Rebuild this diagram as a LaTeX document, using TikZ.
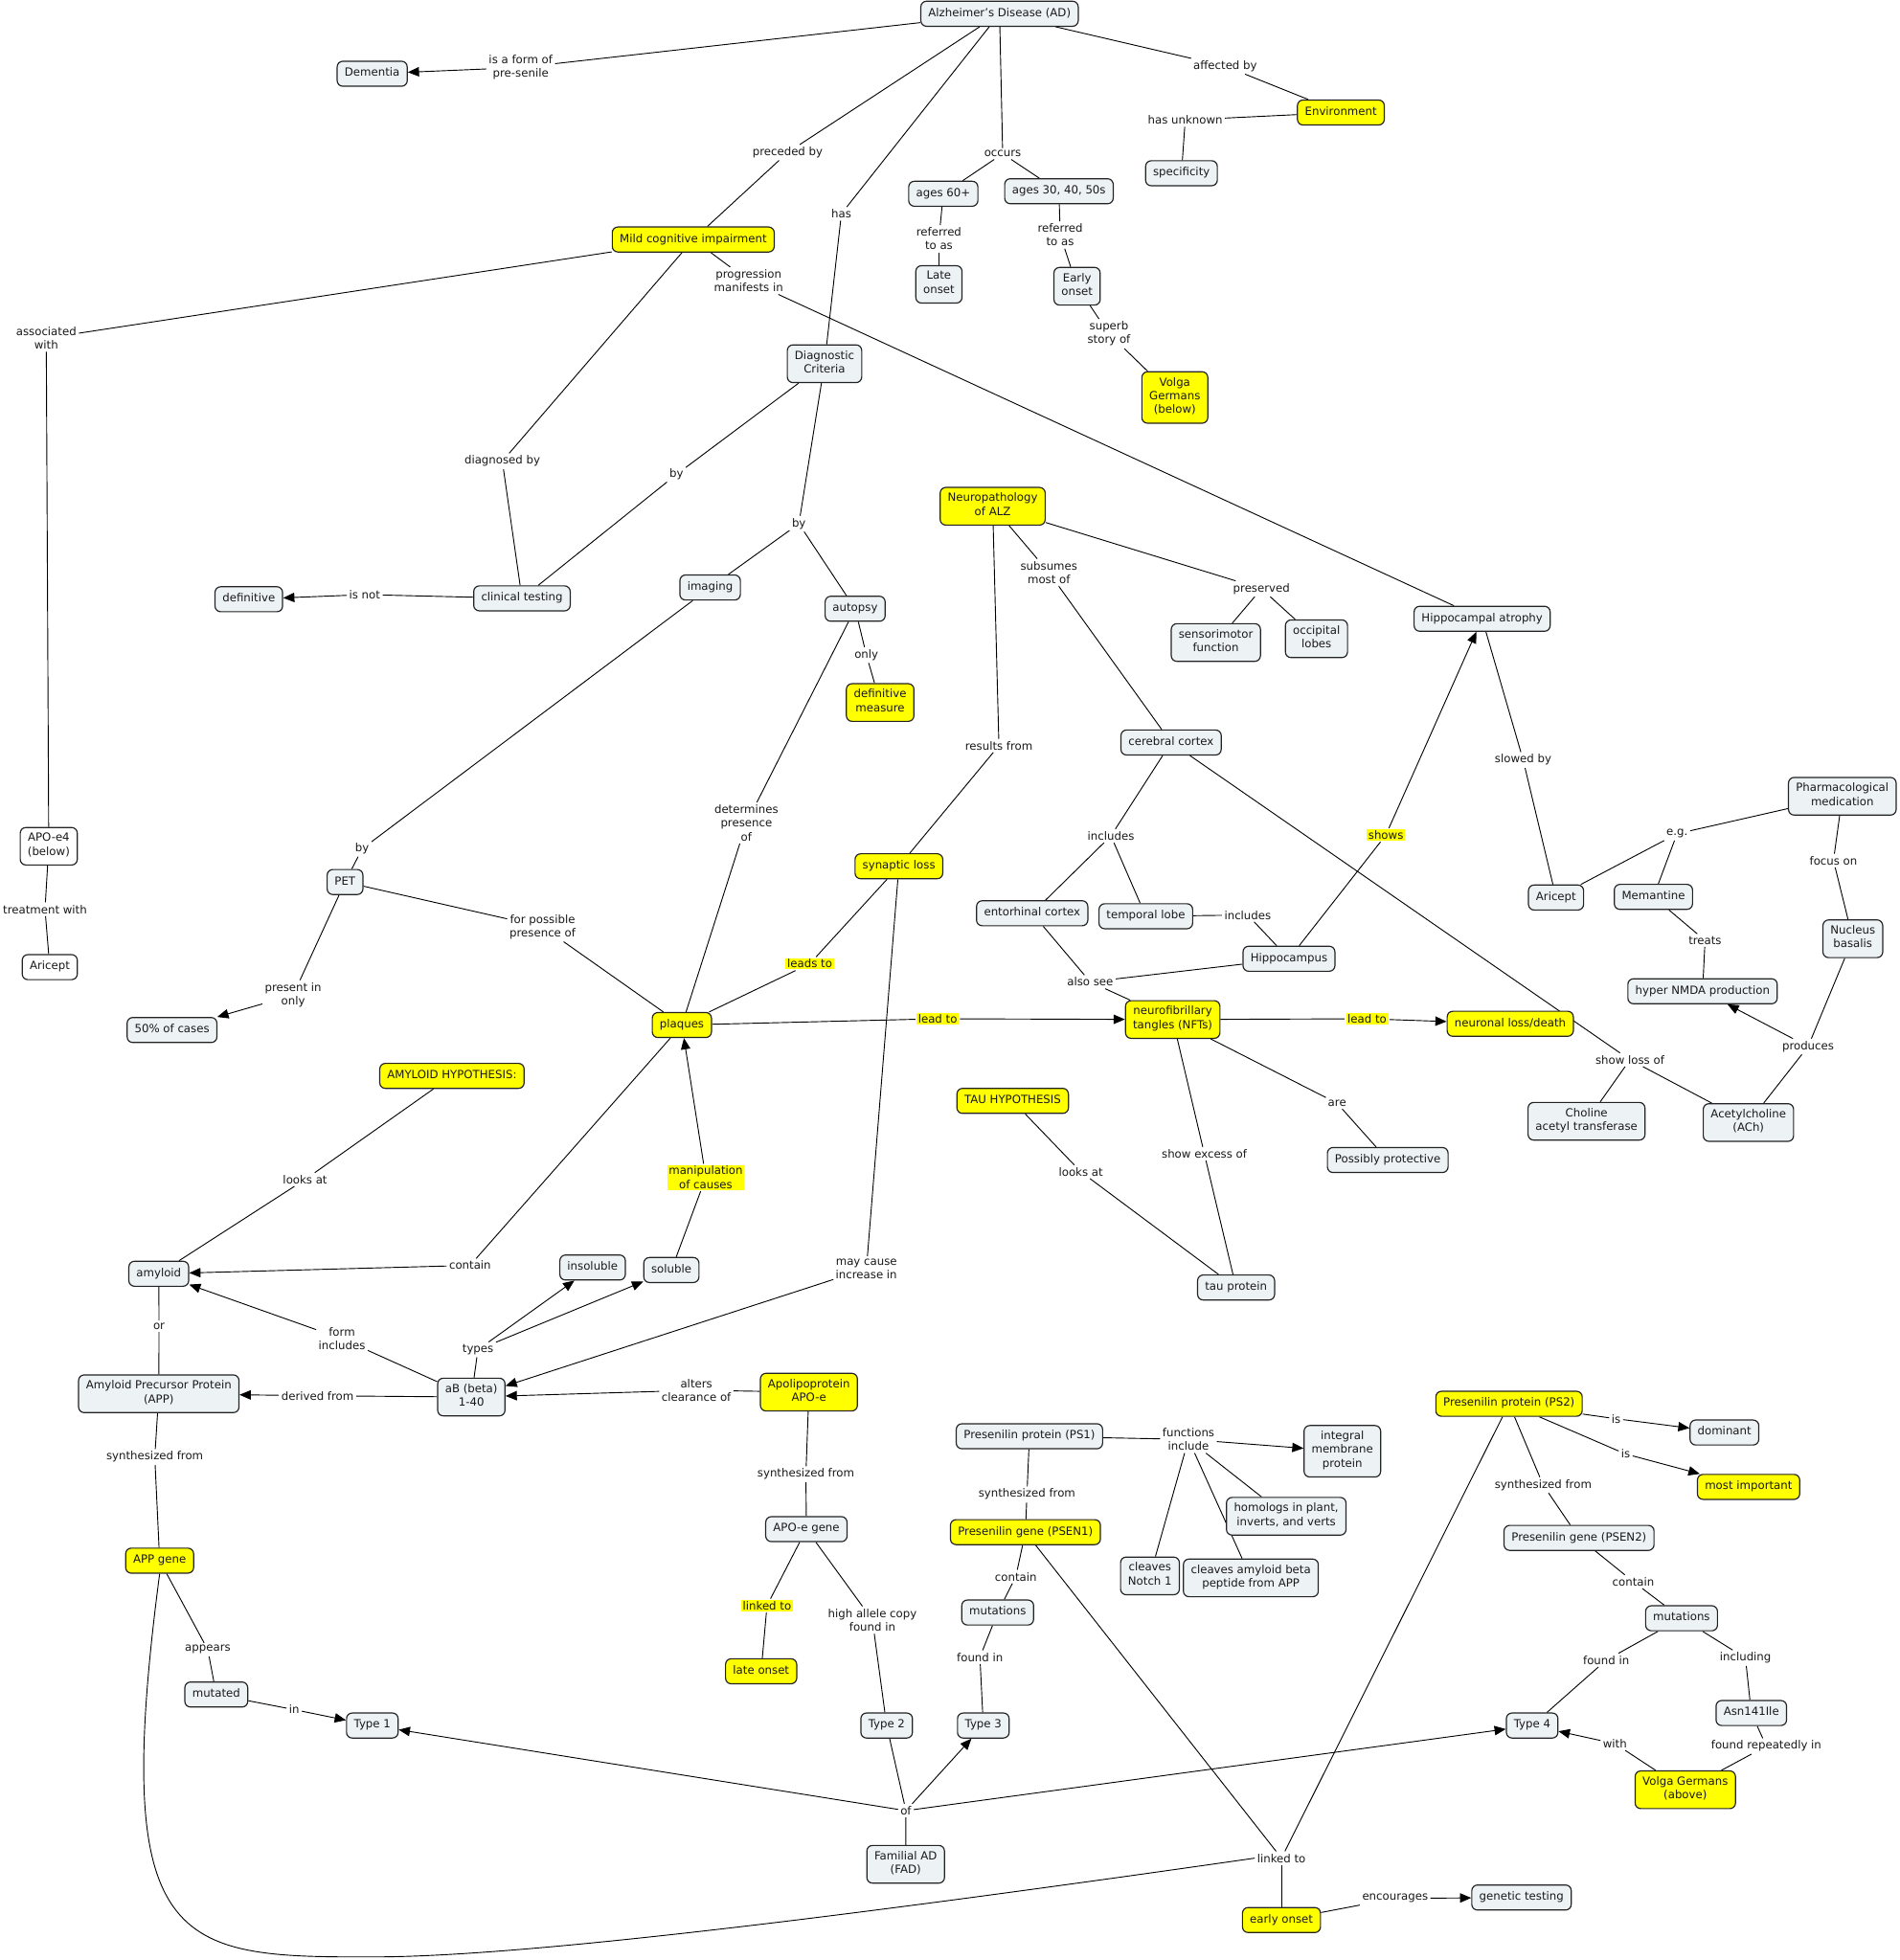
\documentclass[tikz,border=0pt]{standalone}
\usepackage{fontspec}
\setmainfont{DejaVu Sans}
\usetikzlibrary{arrows.meta}
\definecolor{cfill}{RGB}{237,242,245}
\definecolor{cyel}{RGB}{255,255,0}
\definecolor{cline}{RGB}{35,35,35}
\pgfdeclarelayer{bg}
\pgfsetlayers{bg,main}
\begin{document}
\begin{tikzpicture}[x=1pt,y=-1pt,
  every node/.style={font=\fontsize{9}{11}\selectfont, align=center, text=black!90},
  concept/.style={draw=cline, line width=0.9pt, rounded corners=4.5pt, fill=cfill, inner xsep=6pt, inner ysep=4.5pt, execute at begin node=\strut, execute at end node=\strut},
  yconcept/.style={concept, fill=cyel},
  wconcept/.style={concept, fill=white},
  lp/.style={inner sep=1.8pt},
  ylp/.style={inner xsep=1.3pt, inner ysep=1pt, fill=cyel, outer sep=1pt},
  con/.style={draw=black, line width=0.7pt},
  arr/.style={con, -{Triangle[length=9pt,width=7.5pt]}},
]
\useasboundingbox (0,0) rectangle (1519,1568);
% ---------------- concepts ----------------
\node[concept] (ad) at (799.5,11) {Alzheimer's Disease (AD)};
\node[concept] (dementia) at (297.7,59) {Dementia};
\node[yconcept] (env) at (1072.5,90) {Environment};
\node[concept] (spec) at (945,138.6) {specificity};
\node[yconcept] (mci) at (554.5,191.6) {Mild cognitive impairment};
\node[concept] (ages60) at (754.5,155) {ages 60+};
\node[concept] (ages30) at (847,153) {ages 30, 40, 50s};
\node[concept] (late) at (751,227.5) {Late\\onset};
\node[concept] (early) at (861.5,229) {Early\\onset};
\node[yconcept] (volga1) at (939.7,318) {Volga\\Germans\\(below)};
\node[concept] (diag) at (659.5,291) {Diagnostic\\Criteria};
\node[concept] (clinical) at (417.5,478.7) {clinical testing};
\node[concept] (definitive) at (199,479.4) {definitive};
\node[concept] (imaging) at (568,470) {imaging};
\node[concept] (autopsy) at (684,487) {autopsy};
\node[yconcept] (defmeasure) at (704,562) {definitive\\measure};
\node[yconcept] (neuro) at (794,405) {Neuropathology\\of ALZ};
\node[concept] (sensori) at (972.5,514) {sensorimotor\\function};
\node[concept] (occipital) at (1053,511) {occipital\\lobes};
\node[concept] (hatrophy) at (1185.5,495) {Hippocampal atrophy};
\node[wconcept] (apoe4) at (39,677) {APO-e4\\(below)};
\node[wconcept] (aricept1) at (39.8,773.7) {Aricept};
\node[concept] (pet) at (276,705.6) {PET};
\node[concept] (fifty) at (137.6,824) {50\% of cases};
\node[concept] (cortex) at (936.7,594) {cerebral cortex};
\node[yconcept] (synaptic) at (719,693) {synaptic loss};
\node[concept] (pharm) at (1473.6,637) {Pharmacological\\medication};
\node[concept] (aricept2) at (1244.6,718) {Aricept};
\node[concept] (memantine) at (1322.5,717.5) {Memantine};
\node[concept] (nucleus) at (1482,751) {Nucleus\\basalis};
\node[concept] (entorhinal) at (825.6,730.6) {entorhinal cortex};
\node[concept] (temporal) at (916.5,733) {temporal lobe};
\node[concept] (hippo) at (1031,767) {Hippocampus};
\node[concept] (nmda) at (1361.8,793) {hyper NMDA production};
\node[yconcept] (plaques) at (545.4,820) {plaques};
\node[yconcept] (nft) at (938,815.6) {neurofibrillary\\tangles (NFTs)};
\node[yconcept] (neuronal) at (1208,819) {neuronal loss/death};
\node[concept] (choline) at (1269,897) {Choline\\acetyl transferase};
\node[concept] (ach) at (1398.5,898) {Acetylcholine\\(ACh)};
\node[concept] (protective) at (1110,928) {Possibly protective};
\node[yconcept] (amyhyp) at (361.5,860.7) {AMYLOID HYPOTHESIS:};
\node[yconcept] (tauhyp) at (810,880.7) {TAU HYPOTHESIS};
\node[concept] (amyloid) at (127,1019) {amyloid};
\node[concept] (insoluble) at (474,1014) {insoluble};
\node[concept] (soluble) at (537,1016) {soluble};
\node[concept] (tau) at (988.7,1030) {tau protein};
\node[concept] (app) at (127,1115) {Amyloid Precursor Protein\\(APP)};
\node[concept] (ab) at (377,1117.6) {aB (beta)\\1-40};
\node[yconcept] (apolipo) at (647,1113.7) {Apolipoprotein\\APO-e};
\node[concept] (ps1) at (823.4,1149) {Presenilin protein (PS1)};
\node[concept] (integral) at (1073.7,1161) {integral\\membrane\\protein};
\node[concept] (homologs) at (1028.8,1213) {homologs in plant,\\inverts, and verts};
\node[concept] (cleavesn) at (919.8,1260.7) {cleaves\\Notch 1};
\node[concept] (cleavesa) at (1000.5,1262.3) {cleaves amyloid beta\\peptide from APP};
\node[yconcept] (ps2) at (1207,1123) {Presenilin protein (PS2)};
\node[concept] (dominant) at (1379.3,1146) {dominant};
\node[yconcept] (mostimp) at (1398.6,1189.5) {most important};
\node[concept] (psen2) at (1263,1230.3) {Presenilin gene (PSEN2)};
\node[concept] (apoegene) at (645,1223.3) {APO-e gene};
\node[yconcept] (psen1) at (820.2,1225.7) {Presenilin gene (PSEN1)};
\node[concept] (mut1) at (798,1290) {mutations};
\node[concept] (mut2) at (1345,1294.6) {mutations};
\node[yconcept] (appgene) at (127.7,1248.5) {APP gene};
\node[yconcept] (lateonset) at (608.8,1337) {late onset};
\node[concept] (asn) at (1400.8,1370.4) {Asn141Ile};
\node[concept] (mutated) at (173,1355.6) {mutated};
\node[concept] (type1) at (297.8,1380.4) {Type 1};
\node[concept] (type2) at (709.2,1380.4) {Type 2};
\node[concept] (type3) at (786.5,1380.4) {Type 3};
\node[concept] (type4) at (1225.5,1380.4) {Type 4};
\node[yconcept] (volga2) at (1348,1431.8) {Volga Germans\\(above)};
\node[concept] (fad) at (724.4,1491.4) {Familial AD\\(FAD)};
\node[yconcept] (earlyonset) at (1025,1536) {early onset};
\node[concept] (genetic) at (1217,1518) {genetic testing};
% ---------------- linking phrases ----------------
\node[lp] (Lisaform) at (416.5,54) {is a form of\\pre-senile};
\node[lp] (Lpreceded) at (630,122) {preceded by};
\node[lp] (Lhas) at (673,171) {has};
\node[lp] (Loccurs) at (802,123) {occurs};
\node[lp] (Laffected) at (980,53) {affected by};
\node[lp] (Lhasunknown) at (948,96) {has unknown};
\node[lp] (Lref1) at (751,191) {referred\\to as};
\node[lp] (Lref2) at (848,188) {referred\\to as};
\node[lp] (Lsuperb) at (887,267) {superb\\story of};
\node[lp] (Lassoc) at (37,270.5) {associated\\with};
\node[lp] (Ldiagby) at (401.8,369) {diagnosed by};
\node[lp] (Lprogr) at (598.8,224.6) {progression\\manifests in};
\node[lp] (Lby1) at (541,379.6) {by};
\node[lp] (Lby2) at (639,419) {by};
\node[lp] (Lisnot) at (291.7,475.7) {is not};
\node[lp] (Lonly) at (693,524) {only};
\node[lp] (Ldetermines) at (597,658.4) {determines\\presence\\of};
\node[lp] (Lby3) at (289.7,679) {by};
\node[lp] (Lpresentin) at (234.5,796) {present in\\only};
\node[lp] (Lforpossible) at (434,741.5) {for possible\\presence of};
\node[lp] (Ltreatment) at (36,727.4) {treatment with};
\node[lp] (Lsubsumes) at (839,458) {subsumes\\most of};
\node[lp] (Lpreserved) at (1009,471) {preserved};
\node[lp] (Lresults) at (799,596.5) {results from};
\node[lp] (Lincludes1) at (888.6,668.7) {includes};
\node[lp] (Lshowloss) at (1303.7,847.8) {show loss of};
\node[lp] (Lincludes2) at (998,732) {includes};
\node[lp] (Lalsosee) at (872,785.5) {also see};
\node[ylp] (Lshows) at (1108.5,668) {shows};
\node[lp] (Lslowed) at (1218.3,608) {slowed by};
\node[lp] (Leg) at (1341.4,667) {e.g.};
\node[lp] (Lfocus) at (1466.5,688.4) {focus on};
\node[lp] (Ltreats) at (1363.8,752.3) {treats};
\node[lp] (Lproduces) at (1446.2,837.2) {produces};
\node[ylp] (Lleadsto) at (647.7,771) {leads to};
\node[lp] (Lmaycause) at (693,1015) {may cause\\increase in};
\node[ylp] (Lleadto1) at (750,815) {lead to};
\node[ylp] (Lleadto2) at (1093.5,815) {lead to};
\node[lp] (Lare) at (1069.5,882.6) {are};
\node[lp] (Lexcess) at (963.3,923) {show excess of};
\node[lp] (Llooks2) at (864.5,937.4) {looks at};
\node[lp] (Llooks1) at (244,943.6) {looks at};
\node[lp] (Lcontain1) at (376,1012.3) {contain};
\node[ylp] (Lmanip) at (564.5,942) {manipulation\\of causes};
\node[lp] (Lor) at (127.2,1061) {or};
\node[lp] (Lformincl) at (273.5,1071) {form\\includes};
\node[lp] (Ltypes) at (382.3,1079.7) {types};
\node[lp] (Lderived) at (254,1116.6) {derived from};
\node[lp] (Lalters) at (557,1112.2) {alters\\clearance of};
\node[lp] (Lsynth1) at (123.8,1165.6) {synthesized from};
\node[lp] (Lsynth2) at (644.6,1179.4) {synthesized from};
\node[ylp] (Llinked1) at (613.5,1284.4) {linked to};
\node[lp] (Lhighallele) at (697.8,1296) {high allele copy\\found in};
\node[lp] (Lappears) at (166.2,1319.7) {appears};
\node[lp] (Lin) at (235.3,1367.7) {in};
\node[lp] (Lof) at (724.6,1448.5) {of};
\node[lp] (Lfunctions) at (950.6,1151.5) {functions\\include};
\node[lp] (Lsynth3) at (821.4,1195.5) {synthesized from};
\node[lp] (Lcontain2) at (812.5,1261.3) {contain};
\node[lp] (Lfoundin1) at (783.8,1325.7) {found in};
\node[lp] (Llinked2) at (1025,1486.5) {linked to};
\node[lp] (Lencourages) at (1115.9,1518.7) {encourages};
\node[lp] (Lis1) at (1292.7,1135) {is};
\node[lp] (Lis2) at (1300.3,1163.2) {is};
\node[lp] (Lsynth4) at (1234.3,1188) {synthesized from};
\node[lp] (Lcontain3) at (1306.4,1265.3) {contain};
\node[lp] (Lfoundin2) at (1284.7,1328.1) {found in};
\node[lp] (Lincluding) at (1396.1,1326.4) {including};
\node[lp] (Lwith) at (1291.7,1394.9) {with};
\node[lp] (Lfoundrep) at (1412.8,1396.9) {found repeatedly in};
\coordinate (curvelow) at (297,1565.5);
% ---------------- connectors ----------------
\begin{pgfonlayer}{bg}
\fill[white] (0,0) rectangle (1519,1568);
\draw[con] (ad) -- (Lisaform); \draw[arr] (Lisaform) -- (dementia);
\draw[con] (ad) -- (Lpreceded); \draw[con] (Lpreceded) -- (mci);
\draw[con] (ad) -- (Lhas); \draw[con] (Lhas) -- (diag);
\draw[con] (ad) -- (Loccurs); \draw[con] (Loccurs) -- (ages60); \draw[con] (Loccurs) -- (ages30);
\draw[con] (ad) -- (Laffected); \draw[con] (Laffected) -- (env);
\draw[con] (env) -- (Lhasunknown); \draw[con] (Lhasunknown) -- (spec);
\draw[con] (ages60) -- (Lref1); \draw[con] (Lref1) -- (late);
\draw[con] (ages30) -- (Lref2); \draw[con] (Lref2) -- (early);
\draw[con] (early) -- (Lsuperb); \draw[con] (Lsuperb) -- (volga1);
\draw[con] (mci) -- (Lassoc); \draw[con] (Lassoc) -- (apoe4);
\draw[con] (apoe4) -- (Ltreatment); \draw[con] (Ltreatment) -- (aricept1);
\draw[con] (mci) -- (Ldiagby); \draw[con] (Ldiagby) -- (clinical);
\draw[con] (mci) -- (Lprogr); \draw[con] (Lprogr) -- (hatrophy);
\draw[con] (diag) -- (Lby1); \draw[con] (Lby1) -- (clinical);
\draw[con] (clinical) -- (Lisnot); \draw[arr] (Lisnot) -- (definitive);
\draw[con] (diag) -- (Lby2); \draw[con] (Lby2) -- (imaging); \draw[con] (Lby2) -- (autopsy);
\draw[con] (autopsy) -- (Lonly); \draw[con] (Lonly) -- (defmeasure);
\draw[con] (autopsy) -- (Ldetermines); \draw[con] (Ldetermines) -- (plaques);
\draw[con] (imaging) -- (Lby3); \draw[con] (Lby3) -- (pet);
\draw[con] (pet) -- (Lpresentin); \draw[arr] (Lpresentin) -- (fifty);
\draw[con] (pet) -- (Lforpossible); \draw[con] (Lforpossible) -- (plaques);
\draw[con] (neuro) -- (Lsubsumes); \draw[con] (Lsubsumes) -- (cortex);
\draw[con] (neuro) -- (Lpreserved); \draw[con] (Lpreserved) -- (sensori); \draw[con] (Lpreserved) -- (occipital);
\draw[con] (neuro) -- (Lresults); \draw[con] (Lresults) -- (synaptic);
\draw[con] (cortex) -- (Lincludes1); \draw[con] (Lincludes1) -- (entorhinal); \draw[con] (Lincludes1) -- (temporal);
\draw[con] (cortex) -- (Lshowloss); \draw[con] (Lshowloss) -- (choline); \draw[con] (Lshowloss) -- (ach);
\draw[con] (temporal) -- (Lincludes2); \draw[con] (Lincludes2) -- (hippo);
\draw[con] (entorhinal) -- (Lalsosee); \draw[con] (hippo) -- (Lalsosee); \draw[con] (Lalsosee) -- (nft);
\draw[con] (hippo) -- (Lshows); \draw[arr] (Lshows) -- (hatrophy);
\draw[con] (hatrophy) -- (Lslowed); \draw[con] (Lslowed) -- (aricept2);
\draw[con] (pharm) -- (Leg); \draw[con] (Leg) -- (aricept2); \draw[con] (Leg) -- (memantine);
\draw[con] (pharm) -- (Lfocus); \draw[con] (Lfocus) -- (nucleus);
\draw[con] (memantine) -- (Ltreats); \draw[con] (Ltreats) -- (nmda);
\draw[con] (nucleus) -- (Lproduces); \draw[arr] (Lproduces) -- (nmda); \draw[con] (Lproduces) -- (ach);
\draw[con] (synaptic) -- (Lleadsto); \draw[con] (Lleadsto) -- (plaques);
\draw[con] (synaptic) -- (Lmaycause); \draw[arr] (Lmaycause) -- (ab);
\draw[con] (plaques) -- (Lleadto1); \draw[arr] (Lleadto1) -- (nft);
\draw[con] (nft) -- (Lleadto2); \draw[arr] (Lleadto2) -- (neuronal);
\draw[con] (nft) -- (Lare); \draw[con] (Lare) -- (protective);
\draw[con] (nft) -- (Lexcess); \draw[con] (Lexcess) -- (tau);
\draw[con] (tauhyp) -- (Llooks2); \draw[con] (Llooks2) -- (tau);
\draw[con] (amyhyp) -- (Llooks1); \draw[con] (Llooks1) -- (amyloid);
\draw[con] (plaques) -- (Lcontain1); \draw[arr] (Lcontain1) -- (amyloid);
\draw[con] (soluble) -- (Lmanip); \draw[arr] (Lmanip) -- (plaques);
\draw[con] (amyloid) -- (Lor); \draw[con] (Lor) -- (app);
\draw[con] (ab) -- (Lformincl); \draw[arr] (Lformincl) -- (amyloid);
\draw[con] (ab) -- (Ltypes); \draw[arr] (Ltypes) -- (insoluble); \draw[arr] (Ltypes) -- (soluble);
\draw[con] (ab) -- (Lderived); \draw[arr] (Lderived) -- (app);
\draw[con] (apolipo) -- (Lalters); \draw[arr] (Lalters) -- (ab);
\draw[con] (apolipo) -- (Lsynth2); \draw[con] (Lsynth2) -- (apoegene);
\draw[con] (apoegene) -- (Llinked1); \draw[con] (Llinked1) -- (lateonset);
\draw[con] (apoegene) -- (Lhighallele); \draw[con] (Lhighallele) -- (type2);
\draw[con] (app) -- (Lsynth1); \draw[con] (Lsynth1) -- (appgene);
\draw[con] (appgene) -- (Lappears); \draw[con] (Lappears) -- (mutated);
\draw[con] (mutated) -- (Lin); \draw[arr] (Lin) -- (type1);
\draw[con] (fad) -- (Lof); \draw[arr] (Lof) -- (type1); \draw[con] (Lof) -- (type2);
\draw[arr] (Lof) -- (type3); \draw[arr] (Lof) -- (type4);
\draw[con] (ps1) -- (Lfunctions); \draw[arr] (Lfunctions) -- (integral);
\draw[con] (Lfunctions) -- (homologs); \draw[con] (Lfunctions) -- (cleavesn); \draw[con] (Lfunctions) -- (cleavesa);
\draw[con] (ps1) -- (Lsynth3); \draw[con] (Lsynth3) -- (psen1);
\draw[con] (psen1) -- (Lcontain2); \draw[con] (Lcontain2) -- (mut1);
\draw[con] (mut1) -- (Lfoundin1); \draw[con] (Lfoundin1) -- (type3);
\draw[con] (psen1) -- (Llinked2); \draw[con] (ps2) -- (Llinked2); \draw[con] (Llinked2) -- (earlyonset);
\draw[con] (appgene.south) .. controls (88,1560) and (140,1566) .. (curvelow)
  .. controls (420,1566) and (700,1530) .. (Llinked2.west);
\draw[con] (earlyonset) -- (Lencourages); \draw[arr] (Lencourages) -- (genetic);
\draw[con] (ps2) -- (Lis1); \draw[arr] (Lis1) -- (dominant);
\draw[con] (ps2) -- (Lis2); \draw[arr] (Lis2) -- (mostimp);
\draw[con] (ps2) -- (Lsynth4); \draw[con] (Lsynth4) -- (psen2);
\draw[con] (psen2) -- (Lcontain3); \draw[con] (Lcontain3) -- (mut2);
\draw[con] (mut2) -- (Lfoundin2); \draw[con] (Lfoundin2) -- (type4);
\draw[con] (mut2) -- (Lincluding); \draw[con] (Lincluding) -- (asn);
\draw[con] (asn) -- (Lfoundrep); \draw[con] (Lfoundrep) -- (volga2);
\draw[con] (volga2) -- (Lwith); \draw[arr] (Lwith) -- (type4);
\end{pgfonlayer}
\end{tikzpicture}
\end{document}
